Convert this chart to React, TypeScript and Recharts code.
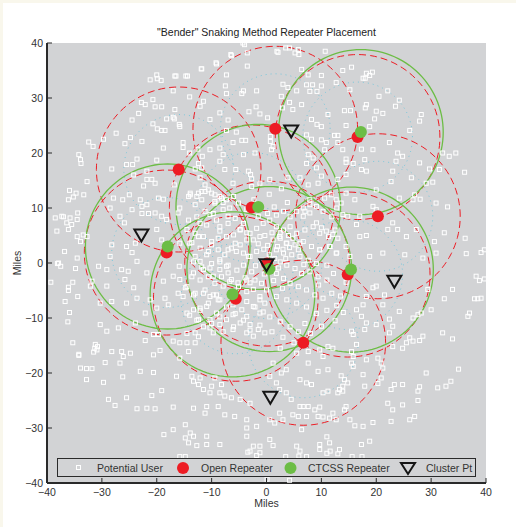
import {
  CartesianGrid,
  ComposedChart,
  Line,
  Scatter,
  XAxis,
  YAxis,
} from "recharts";

const TICKS = [-40, -30, -20, -10, 0, 10, 20, 30, 40];

// repeater coverage (miles)
const COVER_RADIUS = 15;
const INNER_RADIUS = 10;

const OPEN_REPEATERS: [number, number][] = [
  [1.6, 24.4], [-16, 17], [-2.7, 10.1], [-18.2, 1.9], [0.1, -0.1],
  [-5.6, -6.5], [6.7, -14.5], [14.8, -2.1], [20.3, 8.5], [16.6, 22.9],
];

const CTCSS_REPEATERS: [number, number][] = [
  [17.2, 23.8], [-1.5, 10.2], [-18, 3], [0.5, -1.1], [-6.2, -5.7], [15.4, -1.2],
];

const CLUSTER_PTS: [number, number][] = [
  [4.5, 23.9], [-22.8, 5], [0, -0.4], [23.3, -3.4], [0.7, -24.5],
];

const USERS: [number, number][] = [
  // north-west
  [-4, 39.7], [-6.4, 37.7], [-3.5, 38.2], [-9.1, 36.2], [-11.8, 35.3], [-3.5, 35.8], [-7.3, 34.2],
  [-20, 34.2], [-19.9, 33.5], [-16.5, 34], [-14.4, 34], [-19.2, 33.2], [-7.5, 32.2], [-4.2, 31.3],
  [-4.5, 30.8], [-1.8, 31.3], [-17, 31.3], [-14, 30.2], [-7.3, 30.8], [-20.7, 29.7], [-22.1, 28.8],
  [-22.8, 29.2], [-20.3, 28.4], [-19.1, 28.4], [-11.5, 29.4], [-12.1, 28.5], [-16.7, 27.9], [-1.9, 28.4],
  [-3.2, 27.5], [-1.2, 27.1], [-8.5, 27.3], [-23.3, 27.2], [-24.5, 26], [-17, 26.5], [-18.2, 26.2],
  [-16.8, 26.2], [-10.3, 26.1], [-7, 26], [-20.7, 25.3], [-15.9, 25.2], [-15.8, 24.8], [-19.9, 24.4],
  [-19.1, 24.1], [-18.5, 24.1], [-27.4, 23.6], [-24.8, 22.8], [-7.3, 24.1], [-5.5, 23.8], [-4.5, 22.3],
  [-3.8, 22.3], [-6.1, 21.9], [-8.5, 20.9], [-29.7, 22.5], [-32.4, 22], [-31.6, 21.2], [-25.8, 21.7],
  [-22.7, 22.1], [-15.2, 21.9], [-15.2, 21], [-18.8, 20.9], [-14, 20], [-12.5, 20.7], [-11.7, 19.4],
  [-10.3, 20.6], [-7.9, 19.7], [-4.2, 19.7], [-2.1, 20], [-34.2, 19.7], [-33.9, 18.8], [-33.8, 18.1],
  [-23.6, 18.9], [-20, 18.7], [-25.5, 17.9], [-24.4, 17.9], [-28.2, 17.1], [-12.4, 18.1], [-13, 17.1],
  [-11.8, 17.3], [-8.5, 18.5], [-7.6, 17], [-5.6, 17], [-3.3, 16.7], [-2.9, 16.1], [-2.7, 15.3],
  [-32.7, 14.8], [-21.8, 16.7], [-24.2, 16], [-21.8, 15.2], [-20.9, 15.2], [-20.3, 14.5], [-22.4, 14],
  [-16.8, 14.2], [-12.1, 15.5], [-11.2, 14.2], [-6.1, 14.5], [-2.7, 13.9], [-1.2, 14.5], [-35.9, 13.2],
  [-34.7, 12.7], [-35.2, 12], [-36.1, 11.5], [-33.3, 12.4], [-27.9, 11.8], [-26.2, 11.5], [-25, 12.4],
  [-23, 11.5], [-22.7, 10.3], [-21.8, 10.6], [-19.7, 11.8], [-18.8, 11.6], [-14.2, 12.1], [-13.9, 12.7],
  [-12.7, 12.1], [-11.8, 13], [-10.6, 13.3], [-9.4, 12.4], [-8.2, 11.8], [-7.9, 11], [-9.4, 10.9],
  [-28.5, 10], [-24.5, 9.7], [-22.7, 9], [-21.5, 9], [-20.3, 9.1], [-26.7, 8.5], [-25.9, 7.3],
  [-19.1, 8.5], [-18.2, 7.9], [-15.8, 10], [-16.1, 9.1], [-10.3, 8.8], [-7, 8.5], [-38.5, 8.2],
  [-37.3, 8.5], [-36.4, 7.3], [-35.5, 7], [-35.8, 8.2], [-34.4, 9.1], [-34.5, 7.9], [-36.1, 6.1],
  [-38.2, 5.8], [-33.9, 3.9], [-32.7, 4.8], [-28.2, 3.3], [-25.5, 3], [-23.9, 3.6], [-24.5, 1.9],
  [-23.6, 0.3], [-28.5, 1.2], [-34.5, 0.9], [-37.9, 0], [-8.5, 5.8], [-4.8, 6.1], [-3.6, 5.5],
  [-5.7, 3.6], [-2.4, 4.2], [-1.2, 4.8], [-10, 3.3], [-7, 2.4], [-5.5, 2.1], [-4.2, 1.8], [-3.3, 1.2],
  [-10.9, 1.5], [-13, 1.2], [-12.1, 0.3], [-8.5, 0.6], [-14.5, 6.1], [-12.4, 4.8], [-13.6, 3.7],
  [-15.8, 3.6], [-19.1, 4.2], [-20, 6.1], [-37, 8.4], [-34.5, 4.8], [-33.4, 5.1], [-36.8, 2.1],
  [-4.3, 40], [-6.5, 37.9], [-9.2, 36.4], [-11.9, 35.3], [-21.2, 33.3], [-16.7, 34], [-14.7, 34],
  // south-west
  [-38.1, -0.1], [-37.5, -0.6], [-34.8, -1], [-39.3, -3.5], [-35.3, -3.5], [-36.1, -4.4], [-36.1, -5],
  [-34.4, -6.1], [-36.7, -7], [-35.9, -9], [-36.2, -10.7], [-35.3, -14.5], [-34.2, -16.6], [-33.9, -19.1],
  [-32.8, -19.2], [-31.8, -19.2], [-32.8, -21.2], [-31.3, -15.5], [-30.8, -15.2], [-31.5, -16.2],
  [-30.3, -11.2], [-29.1, -12.4], [-27, -11.8], [-30.6, -0.6], [-29.1, -1.2], [-32.1, -4.2], [-31.8, -3.3],
  [-29.1, -4.2], [-30.3, -7.3], [-28.2, -7], [-25.8, -3], [-24.2, -4.5], [-25.5, -7.3], [-23.6, -6.4],
  [-25.2, -1.5], [-26.4, -1.2], [-22.1, -9.1], [-23.9, -10.9], [-21.2, -6.7], [-18.5, -6.4], [-21.8, -1.8],
  [-18.8, -3.3], [-17, -2.4], [-15.9, -0.6], [-16.1, -5.5], [-15.2, -6.1], [-17.9, -7.6], [-20, -8.2],
  [-14.5, -9.1], [-13.3, -8.5], [-12.1, -8.2], [-12.4, -10.3], [-10.3, -11.8], [-9.7, -12.7], [-13, -12.7],
  [-31.2, -14.8], [-30.9, -15.8], [-28.2, -16.1], [-26.4, -16.1], [-26.1, -17], [-26.7, -18.2],
  [-24.8, -16.4], [-34.2, -16.8], [-29.4, -18.1], [-29.7, -21.7], [-26.2, -20.7], [-23, -19.7],
  [-20.6, -19.9], [-22.1, -14.1], [-20.6, -13], [-19.7, -13], [-19.4, -15.9], [-20.6, -16.7], [-17, -14.2],
  [-15.8, -14.5], [-14.5, -14.5], [-13, -14.5], [-14.2, -16.1], [-15.8, -17.3], [-16.4, -20.6],
  [-13.6, -20.6], [-13.3, -21.5], [-12.1, -20.9], [-12.4, -22.1], [-11.5, -23], [-10, -22.4], [-9.4, -20.9],
  [-8.2, -22.1], [-10.3, -23.6], [-8.5, -23.6], [-7.6, -24.2], [-6.4, -24.5], [-4.8, -24.8], [-3, -25.5],
  [-19.1, -23.2], [-20.9, -24.1], [-25.5, -24.5], [-28.8, -24.8], [-27.6, -25.9], [-23.6, -26.5],
  [-21.8, -26.4], [-20.3, -26.5], [-17, -26.2], [-13.3, -26.4], [-10.9, -26.1], [-8.8, -26.1],
  [-11.2, -27.3], [-7.6, -27.6], [-5.8, -27.9], [-3.6, -28.5], [-17, -30.3], [-18.7, -31.2], [-14.8, -29.4],
  [-13.9, -30.9], [-13.3, -31.5], [-14.8, -31.8], [-14.2, -32.7], [-12.7, -33.2], [-10.9, -33], [-8.5, -33],
  [-10.9, -31.5], [-3.6, -31.5], [-2.4, -33.3], [-1.2, -33.3], [-3.6, -30], [-1.8, -29.7], [-3, -34.2],
  [-1.2, -34.5], [-15.8, -35.2], [-14.8, -35.2], [-14.8, -36.4], [-13.3, -36.4], [-3.4, -34.4], [-1.8, -35],
  [-13.3, -1.8], [-11.5, -1.2], [-10.3, -0.9], [-9.7, -2.4], [-8.5, -1.2], [-7.3, -0.6], [-7, -1.8],
  [-6.4, -3], [-5.2, -3.6], [-3.9, -2.7], [-3, -3.6], [-2.4, -4.8], [-1.2, -6.1], [-0.3, -7.3],
  [-7.9, -4.2], [-9.1, -5.8], [-10.3, -6.1], [-11.5, -5.5], [-13.3, -5.8], [-14.8, -4.5], [-15.8, -3],
  [-8.5, -6.7], [-6.1, -7.6], [-4.5, -8.5], [-3.6, -7], [-2.4, -7.9], [-1.2, -9.1], [-3.6, -9.7],
  [-4.8, -10.9], [-3, -11.2], [-1.5, -12.1], [-0.3, -12.7], [-3.6, -12.7], [-2.4, -13.3], [-6.1, -9.4],
  [-7.3, -10.3], [-9.1, -9.1], [-10.3, -10.3], [-10.9, -7.9], [-8.5, -11.2], [-6.1, -12.1],
  // centre
  [-13.9, 12.4], [-12.4, 12.7], [-11.2, 13], [-11.8, 11.5], [-13, 10.6], [-10, 12.7], [-9.4, 11.2],
  [-8.5, 12.1], [-7.3, 11.5], [-6, 12.1], [-5.1, 10.9], [-6.7, 10], [-7.9, 9.7], [-9.7, 9], [-11.2, 9.4],
  [-12.7, 8.4], [-14.2, 7.8], [-12.1, 7.2], [-10.9, 6.9], [-9.1, 7.8], [-8.5, 6.6], [-7, 7.2], [-5.7, 8.1],
  [-4.2, 7.2], [-4.8, 6], [-6, 5.1], [-7.3, 4.8], [-8.8, 4.5], [-10, 3.9], [-11.5, 4.8], [-13, 5.4],
  [-14, 3.6], [-12.1, 2.7], [-10.6, 2.1], [-8.8, 2.4], [-7.6, 1.5], [-6.4, 2.7], [-4.8, 3.3], [-3.6, 4.2],
  [-3, 5.4], [-1.8, 6.3], [-0.6, 7.2], [0.6, 7.8], [1.8, 8.7], [3.1, 9.4], [4.3, 8.4], [5.5, 9.4],
  [6.7, 10], [7.9, 9.1], [9.1, 10.3], [10.3, 9.4], [11.9, 8.4], [12.8, 10], [1.8, 6.6], [3.1, 6],
  [4.3, 6.6], [5.5, 5.4], [7, 6], [8.5, 6.6], [9.7, 5.4], [11.3, 4.8], [12.5, 6], [2.5, 4.5], [1.2, 4.2],
  [3.7, 3.6], [5.2, 3.3], [6.7, 3.9], [8.2, 3], [9.7, 2.4], [11.6, 3], [12.8, 1.8], [1.8, 2.4], [3.1, 1.8],
  [4.6, 1.5], [6.1, 1.2], [7.6, 0.5], [9.1, -0.1], [11, -0.4], [2.5, 0.2], [3.7, -0.4], [5.2, -1],
  [6.4, -1.9], [7.9, -1.6], [9.4, -2.5], [11, -3.1], [12.2, -1.9], [1.8, -1.9], [3.1, -2.8], [4.3, -3.7],
  [5.8, -4.3], [7.3, -4.9], [8.8, -5.8], [10.3, -6.4], [11.9, -5.5], [12.8, -7.7], [11, -8.6], [9.1, -9.2],
  [7.3, -8], [5.5, -7.3], [3.7, -6.7], [1.8, -6.1], [0, -4.9], [-1.2, -6.7], [-2.1, -8], [-0.6, -8.9],
  [0.6, -9.8], [2.5, -10.7], [4.3, -11.6], [5.8, -12.5], [-1.2, -11.3], [-3, -12.2], [-4.2, -10.4],
  [-5.7, -9.2], [-7.3, -8], [-8.5, -9.8], [-10, -11], [-11.5, -11.6], [-12.7, -10.4], [-14, -9.5],
  [-12.1, -8.6], [-10.6, -7.3], [-9.7, -5.8], [-11.2, -4.9], [-13, -5.5], [-14.5, -4.3], [-13.6, -2.5],
  [-12.1, -3.1], [-10.6, -2.5], [-9.4, -3.7], [-8.2, -2.5], [-6.7, -3.4], [-5.1, -4.3], [-3.6, -3.1],
  [-2.7, -1.6], [-4.2, -0.4], [-5.4, -1.3], [-7, -0.4], [-8.5, 0.2], [-10, -0.1], [-11.8, -0.7],
  [-13.3, 0.2], [-3, 1.2], [-1.8, 2.1], [-0.9, 0.5], [-2.1, -3.1], [-0.9, -3.7], [-3.6, -5.2],
  [-5.4, -6.1], [-8.8, -6.7], [-6, -11.6], [-7.9, -12.5], [-14.5, -12.8], [-12.4, -13.4],
  [0.5, 1.5], [1.5, 0.8], [-0.5, 2.5], [2, 3], [3, 2.5], [-1.5, 3.5], [0.2, 3.2], [1, 5.5], [2.5, 5.5],
  [4, 5], [-0.3, 5], [0.8, -1], [2.2, -0.9], [3.5, 0.8], [4.2, 2.8], [-2, -0.5], [1.3, -3.2], [2.9, -4.6],
  [-0.4, -2], [5.8, 2.4], [6.8, -0.3], [0.2, 9], [-1.5, 8.5], [1.4, 10.2], [3.8, 11], [-3.6, 9.7],
  [-2.3, 11.5], [0.5, 12.5], [2.7, 13.5],
  // north-east
  [2.1, 38.3], [3.5, 39.1], [4.2, 39.1], [5.8, 38.8], [5.2, 38.2], [5.9, 37.9], [15.5, 35.6], [6.4, 35.2],
  [7.6, 34.2], [10, 34.1], [18.2, 34.5], [18.8, 34.1], [19.3, 34.7], [18, 33.6], [3, 32.5], [3.9, 31.9],
  [7.3, 32.4], [8.4, 32.4], [10, 32.2], [12.7, 32.8], [5.5, 31.3], [7.9, 31.2], [9.2, 31.2], [15.2, 31.5],
  [22.1, 31.3], [20.5, 30.3], [2.7, 30.3], [4.2, 29.2], [6.4, 28.8], [24.2, 29.6], [23.5, 28.5],
  [18.2, 28.8], [18, 28.2], [20, 27.6], [21.2, 27.2], [11.2, 27], [14.2, 27.7], [15.3, 27.7], [19.7, 26.2],
  [28.2, 27], [27.9, 25.8], [0.2, 26.4], [4.8, 27.9], [2.9, 28.2], [8.2, 26.1], [9.2, 25.2], [10, 24.8],
  [14.5, 25], [18.8, 24.8], [26.1, 24.1], [0.7, 23], [0.7, 22.1], [1.2, 21.2], [0.9, 20.6], [7.3, 23.3],
  [8.2, 22.5], [10, 22.4], [10.9, 21.9], [12.4, 23.2], [13, 23.2], [13, 21.9], [22.4, 21.9], [13.9, 20.6],
  [17.3, 20.7], [19.4, 20.6], [23.9, 20], [24.8, 19.4], [23.6, 18.5], [23, 16.7], [10.6, 20.6], [7.6, 19.7],
  [8.5, 19.1], [7.3, 18.1], [9.1, 17.3], [14.5, 18.9], [14.5, 18.3], [15.8, 18.1], [17.9, 18.8], [17.3, 17],
  [18.2, 16.7], [14.5, 16.1], [13, 15.2], [10, 15.8], [9.4, 14.5], [6.1, 15.5], [7.6, 14.2], [3.9, 15.5],
  [0.6, 15.2], [32.1, 20], [33.3, 19.4], [34.5, 20], [36.1, 16.5], [29.7, 17.1], [31.5, 17], [27.9, 18.2],
  [29.1, 14.5], [30.3, 14.7], [26.4, 15.5], [22.7, 14.8], [27, 12.4], [30.9, 10.9], [33, 10.2], [28, 11.6],
  [26.7, 11.5], [24.2, 11.8], [20, 13.3], [19.4, 10.3], [20, 9.7], [23, 7.3], [23.9, 6.1], [22.1, 6.1],
  [25.5, 4.8], [27.3, 6.1], [30.6, 3.9], [32.4, 5.5], [36.2, 4.5], [36.4, 1.7], [39.1, 1.9], [39.7, 2.4],
  [30.9, 1.8], [28.5, 0.9], [25.2, 1.5], [21.2, 1.8], [18.8, 1.2], [17, 4.8], [18.2, 5], [16.4, 7],
  [14.8, 8.5], [13.9, 8.8], [17, 8.5], [16.1, 11.5], [14.5, 12.7], [13.6, 10.9], [12.7, 11.5], [11.8, 12.4],
  [10.6, 11.8], [7.9, 11.5], [7.9, 10.6], [7, 9.4], [6.7, 8.5], [9.1, 7.3], [10, 6.4], [10.9, 5.8],
  [12.1, 5.2], [13, 4.5], [11.5, 3], [12.7, 1.8], [14.5, 3], [15.2, 1.2], [9.7, 2.4], [8.2, 3], [6.1, 3.6],
  [3.6, 3.6], [4.8, 4.5], [2.4, 4.8], [1.9, 38.5], [10.7, 38.5], [13.9, 35], [17.6, 33.6],
  // south-east
  [38.2, -2.4], [38.8, -3.2], [39.7, -2.9], [37.9, -6.5], [38.5, -6.5], [39.1, -6.4], [37, -9.1],
  [36.7, -9.7], [32.4, -6.5], [29.4, -4.8], [33.9, -4.8], [30, -8.5], [27.6, -9.4], [28.2, -9.1],
  [26.7, -10], [28.5, -13.3], [26.7, -14.2], [26.1, -13.6], [27.9, -14.1], [25.5, -14.5], [32.1, -12.7],
  [33.9, -13.8], [24.8, -15.5], [23, -15.2], [22.4, -12.7], [23, -11.5], [24.2, -8.8], [22.4, -10.2],
  [21.2, -7.6], [21.5, -5.8], [19.4, -4.5], [20, -4.2], [18.2, -6.1], [17.6, -7.6], [16.4, -8.5],
  [17.3, -9.7], [18.2, -10.9], [15.8, -13], [15.5, -12.4], [17.9, -12.1], [20, -11.2], [29.1, -20],
  [31.2, -22.7], [32.7, -22.4], [33.6, -21.5], [35, -19.3], [27.9, -22.5], [27.6, -23.3], [27.6, -25],
  [27, -27.9], [26.1, -28.5], [24.8, -25.8], [23, -26.7], [22.1, -25.5], [22.7, -23], [24.8, -22.1],
  [23.3, -22.1], [20.3, -21.9], [20.9, -20.9], [17.9, -22.4], [17.6, -20.3], [15.8, -18.8], [15.5, -18.2],
  [14.2, -21.2], [13.9, -22.4], [13, -23.6], [14.5, -26.1], [14.2, -26.7], [12.1, -27.3], [11.5, -28.2],
  [10.3, -28], [9.4, -27.9], [12.7, -28.5], [15.2, -28.5], [16.1, -29.6], [17.6, -29.7], [19.4, -29],
  [22.7, -28.8], [18.8, -32.4], [17.3, -33], [13.3, -33.9], [13, -34.7], [11.5, -32.7], [11, -31.6],
  [9.7, -33], [9.7, -33.9], [7.3, -35.2], [5.5, -33.3], [6.1, -34.2], [6.4, -30.3], [4.8, -27.6],
  [5.8, -27.9], [1.2, -33.2], [0.6, -32.1], [7.3, -27.9], [6.1, -26.1], [6.7, -26.1], [7.6, -26.1],
  [8.8, -26.7], [9.7, -26.2], [3, -28.5], [2.4, -27.3], [1.5, -29.1], [0.6, -28.5], [4.5, -24.8],
  [3.6, -23.6], [2.4, -23], [7.3, -21.8], [8.2, -22.1], [6.1, -21.2], [9.4, -19.7], [11.2, -19.4],
  [11.2, -23.3], [13.3, -23], [13.9, -23.3], [10.3, -23.6], [13.6, -20.5], [14.8, -21.8], [0.6, -20.6],
  [3.6, -19.4], [2.7, -20], [1.2, -18.2], [1.8, -21.8], [7.6, -18.2], [5.5, -16.4], [7.6, -16.1],
  [9.7, -15.8], [11.2, -15.2], [10.3, -17], [15.5, -16.1], [15.8, -17], [18.2, -17.6], [20.3, -17.3],
  [20.9, -18.2], [21.2, -19.1], [16.4, -14.8], [12.1, -15.5], [1, -12.5], [3, -13.5], [5, -14.5],
  [8, -12.8], [10, -11.5], [12.5, -10.5], [14, -9], [13.5, -6], [14.5, -3.5], [15, -0.8], [9.5, -4],
  [7, -11], [2.5, -15.5], [3.5, -35.2], [5.9, -35.1], [11, -34.6], [11.6, -34.2], [15.6, -35.2],
  [17.4, -35.2], [0.1, -39.3], [4.2, -39.5],
];

const fmt = (v: number) => (v < 0 ? `\u2212${Math.abs(v)}` : `${v}`);

const toPoints = (arr: [number, number][]) => arr.map(([x, y]) => ({ x, y }));

// outline of a coverage circle in data units
function ring(cx: number, cy: number, r: number, n = 120) {
  const pts: { x: number; y: number }[] = [];
  for (let i = 0; i <= n; i++) {
    const a = (i / n) * Math.PI * 2;
    pts.push({ x: cx + r * Math.cos(a), y: cy + r * Math.sin(a) });
  }
  return pts;
}

const FONT = 'Arial, "Liberation Sans", Helvetica, sans-serif';
const INK = "#2a2a2a";
const PLOT_BG = "#d2d3d5";
const RED = "#ed1c24";
const GREEN = "#6cbd45";
const CYAN = "#78c8dc";

const BottomTick = ({ x, y, payload }: any) => (
  <g>
    <line x1={x} x2={x} y1={y} y2={y - 5} stroke={INK} />
    <text x={x} y={y + 13} textAnchor="middle" fontSize={10.5} fontFamily={FONT} fill="#333">
      {fmt(payload.value)}
    </text>
  </g>
);

const LeftTick = ({ x, y, payload }: any) => (
  <g>
    <line x1={x} x2={x + 5} y1={y} y2={y} stroke={INK} />
    <text x={x - 4} y={y + 4} textAnchor="end" fontSize={10.5} fontFamily={FONT} fill="#333">
      {fmt(payload.value)}
    </text>
  </g>
);

const TopTick = ({ x, y }: any) => <line x1={x} x2={x} y1={y} y2={y + 5} stroke={INK} />;
const RightTick = ({ x, y }: any) => <line x1={x - 5} x2={x} y1={y} y2={y} stroke={INK} />;

const UserShape = ({ cx, cy }: any) => (
  <rect x={cx - 2} y={cy - 2} width={4} height={4} fill="none" stroke="#ffffff" strokeWidth={1} />
);
const DotShape = (color: string) => ({ cx, cy }: any) => <circle cx={cx} cy={cy} r={6} fill={color} />;
const TriangleShape = ({ cx, cy }: any) => (
  <path
    d={`M${cx - 7},${cy - 6}L${cx + 7},${cy - 6}L${cx},${cy + 6}Z`}
    fill="none"
    stroke="#151515"
    strokeWidth={2}
    strokeLinejoin="miter"
  />
);

function LegendBox() {
  const text = { position: "absolute" as const, top: 2, fontSize: 10.5, color: "#333", lineHeight: "14px" };
  return (
    <div
      style={{
        position: "absolute",
        left: 57,
        top: 458,
        width: 417,
        height: 17,
        border: `1.5px solid ${INK}`,
        background: PLOT_BG,
        fontFamily: FONT,
      }}
    >
      <svg width={417} height={17} style={{ position: "absolute", left: 0, top: 0 }}>
        <rect x={18.5} y={6.5} width={4} height={4} fill="none" stroke="#fff" />
        <circle cx={125} cy={9} r={6} fill={RED} />
        <circle cx={232.5} cy={9} r={6} fill={GREEN} />
        <path d="M343,4L357,4L350,15Z" fill="none" stroke="#151515" strokeWidth={2} />
      </svg>
      <span style={{ ...text, left: 39 }}>Potential User</span>
      <span style={{ ...text, left: 143 }}>Open Repeater</span>
      <span style={{ ...text, left: 250 }}>CTCSS Repeater</span>
      <span style={{ ...text, left: 368 }}>Cluster Pt</span>
    </div>
  );
}

export default function App() {
  const users = toPoints(USERS);
  const open = toPoints(OPEN_REPEATERS);
  const ctcss = toPoints(CTCSS_REPEATERS);
  const clusters = toPoints(CLUSTER_PTS);

  return (
    <div
      style={{
        position: "fixed",
        left: 0,
        top: 0,
        width: 516,
        height: 527,
        background: "#f9f7ec",
        fontFamily: FONT,
        overflow: "hidden",
      }}
    >
      <div style={{ position: "absolute", left: 3, top: 3, right: 0, bottom: 0, background: "#fff" }} />
      <div style={{ position: "absolute", left: 0, top: 0 }}>
        <ComposedChart width={516} height={527} margin={{ top: 43, right: 30, bottom: 14, left: 7 }}>
          <CartesianGrid horizontal={false} vertical={false} fill={PLOT_BG} />
          <XAxis
            xAxisId="b"
            dataKey="x"
            type="number"
            domain={[-40, 40]}
            ticks={TICKS}
            interval={0}
            allowDataOverflow
            height={30}
            tickSize={0}
            tickMargin={0}
            tick={<BottomTick />}
            axisLine={{ stroke: INK, strokeWidth: 2 }}
          />
          <XAxis
            xAxisId="t"
            orientation="top"
            dataKey="x"
            type="number"
            domain={[-40, 40]}
            ticks={TICKS}
            interval={0}
            height={0}
            tickSize={0}
            tickMargin={0}
            tick={<TopTick />}
            axisLine={{ stroke: INK, strokeWidth: 1 }}
          />
          <YAxis
            yAxisId="l"
            dataKey="y"
            type="number"
            domain={[-40, 40]}
            ticks={TICKS}
            interval={0}
            allowDataOverflow
            width={40}
            tickSize={0}
            tickMargin={0}
            tick={<LeftTick />}
            axisLine={{ stroke: INK, strokeWidth: 2 }}
          />
          <YAxis
            yAxisId="r"
            orientation="right"
            dataKey="y"
            type="number"
            domain={[-40, 40]}
            ticks={TICKS}
            interval={0}
            width={0}
            tickSize={0}
            tickMargin={0}
            tick={<RightTick />}
            axisLine={{ stroke: INK, strokeWidth: 2 }}
          />

          <Scatter
            xAxisId="b"
            yAxisId="l"
            data={users}
            shape={<UserShape />}
            isAnimationActive={false}
          />

          {OPEN_REPEATERS.map(([cx, cy], i) => (
            <Line
              key={`in${i}`}
              xAxisId="b"
              yAxisId="l"
              data={ring(cx, cy, INNER_RADIUS)}
              dataKey="y"
              type="linear"
              stroke={CYAN}
              strokeWidth={1}
              strokeDasharray="1 4"
              dot={false}
              activeDot={false}
              isAnimationActive={false}
            />
          ))}
          {OPEN_REPEATERS.map(([cx, cy], i) => (
            <Line
              key={`op${i}`}
              xAxisId="b"
              yAxisId="l"
              data={ring(cx, cy, COVER_RADIUS)}
              dataKey="y"
              type="linear"
              stroke={RED}
              strokeWidth={1}
              strokeDasharray="7 4"
              dot={false}
              activeDot={false}
              isAnimationActive={false}
            />
          ))}
          {CTCSS_REPEATERS.map(([cx, cy], i) => (
            <Line
              key={`ct${i}`}
              xAxisId="b"
              yAxisId="l"
              data={ring(cx, cy, COVER_RADIUS)}
              dataKey="y"
              type="linear"
              stroke={GREEN}
              strokeWidth={1.3}
              dot={false}
              activeDot={false}
              isAnimationActive={false}
            />
          ))}

          <Scatter xAxisId="b" yAxisId="l" data={open} shape={DotShape(RED)} isAnimationActive={false} />
          <Scatter xAxisId="b" yAxisId="l" data={ctcss} shape={DotShape(GREEN)} isAnimationActive={false} />
          <Scatter xAxisId="b" yAxisId="l" data={clusters} shape={<TriangleShape />} isAnimationActive={false} />
        </ComposedChart>
      </div>

      <div
        style={{
          position: "absolute",
          left: 47,
          width: 439,
          top: 25,
          textAlign: "center",
          fontSize: 10.5,
          lineHeight: "14px",
          color: "#222",
        }}
      >
        "Bender" Snaking Method Repeater Placement
      </div>
      <div
        style={{
          position: "absolute",
          left: 47,
          width: 439,
          top: 496,
          textAlign: "center",
          fontSize: 10.5,
          lineHeight: "14px",
          color: "#333",
        }}
      >
        Miles
      </div>
      <div
        style={{
          position: "absolute",
          left: 17,
          top: 263,
          transform: "translate(-50%, -50%) rotate(-90deg)",
          fontSize: 10.5,
          lineHeight: "14px",
          color: "#333",
        }}
      >
        Miles
      </div>
      <LegendBox />
    </div>
  );
}
